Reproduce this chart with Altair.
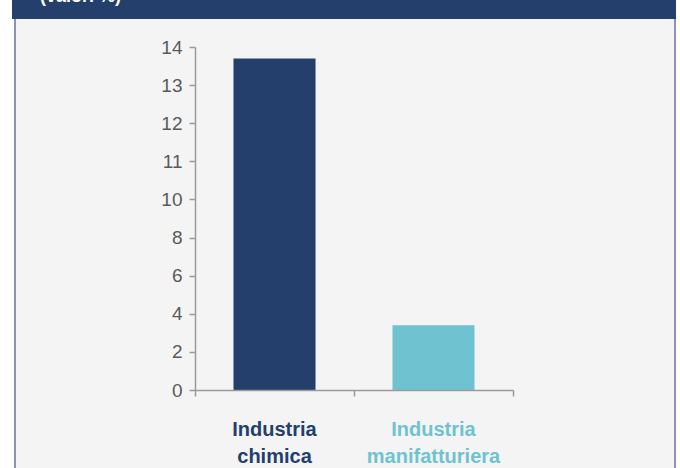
import altair as alt
import pandas as pd

# Data
categories = ["Industria chimica", "Industria manifatturiera"]
label_lines = ["Industria\nchimica", "Industria\nmanifatturiera"]
values = [13.7, 3.4]
colors = ["#243f6b", "#6fc3d0"]
tick_labels = ["0", "2", "4", "6", "8", "10", "11", "12", "13", "14"]
header_text = "(valori %)"

W, H = 318, 343
PAD = {"left": 195, "top": 47, "right": 680 - 195 - W, "bottom": 468 - 47 - H}

df = pd.DataFrame({"cat": categories, "label": label_lines, "value": values,
                   "idx": list(range(len(categories)))})

label_js = "[" + ",".join(f"'{t}'" for t in tick_labels) + "]"

base = alt.Chart(df).transform_calculate(
    # axis is drawn with evenly spaced ticks 0,2,4,6,8,10,11,12,13,14
    pos="datum.value <= 10 ? datum.value / 2 : datum.value - 5",
    x0="datum.idx + 0.242",
    x1="datum.idx + 0.758",
    xc="datum.idx + 0.5",
)

one = pd.DataFrame({"a": [0]})

panel = alt.Chart(one).mark_rect(fill="#f4f4f4", stroke="#8d92b8", strokeWidth=2).encode(
    x=alt.value(-180), x2=alt.value(480), y=alt.value(-60), y2=alt.value(440)
)
header = alt.Chart(one).mark_rect(fill="#243f6b").encode(
    x=alt.value(-183), x2=alt.value(481), y=alt.value(-60), y2=alt.value(-28)
)
htext = alt.Chart(one).mark_text(
    text=header_text, color="white", font="Liberation Sans", fontWeight="bold",
    fontSize=18, align="left", baseline="alphabetic"
).encode(x=alt.value(-155), y=alt.value(-45))

yscale = alt.Scale(domain=[0, 9], nice=False, zero=True)
xscale = alt.Scale(domain=[0, 2], nice=False, zero=False)
cscale = alt.Scale(domain=categories, range=colors)

bars = base.mark_rect().encode(
    x=alt.X("x0:Q", scale=xscale, axis=alt.Axis(
        values=[0, 1, 2], labels=False, title=None, grid=False, tickSize=6,
        domainColor="#9a9a9a", tickColor="#9a9a9a", domainWidth=1.5, tickWidth=1.5, zindex=1)),
    x2="x1:Q",
    y=alt.Y("pos:Q", scale=yscale, axis=alt.Axis(
        values=list(range(len(tick_labels))), labelExpr=f"{label_js}[datum.value]",
        title=None, grid=False, tickSize=6, labelPadding=7, labelFontSize=19,
        labelFont="Liberation Sans", labelColor="#5a5a5a",
        domainColor="#9a9a9a", tickColor="#9a9a9a", domainWidth=1.5, tickWidth=1.5, zindex=1)),
    y2=alt.datum(0),
    color=alt.Color("cat:N", scale=cscale, legend=None),
)

labels = base.mark_text(
    font="Liberation Sans", fontWeight="bold", fontSize=20, lineBreak="\n",
    lineHeight=27, align="center", baseline="alphabetic"
).encode(
    x=alt.X("xc:Q", scale=xscale),
    y=alt.value(389),
    text="label:N",
    color=alt.Color("cat:N", scale=cscale, legend=None),
)

chart = alt.layer(panel, header, htext, bars, labels).properties(
    width=W, height=H, padding=PAD, background="white",
    autosize=alt.AutoSizeParams(type="none"),
).configure_view(stroke=None)

chart.save("out.html", embed_options={"renderer": "svg", "actions": False})
